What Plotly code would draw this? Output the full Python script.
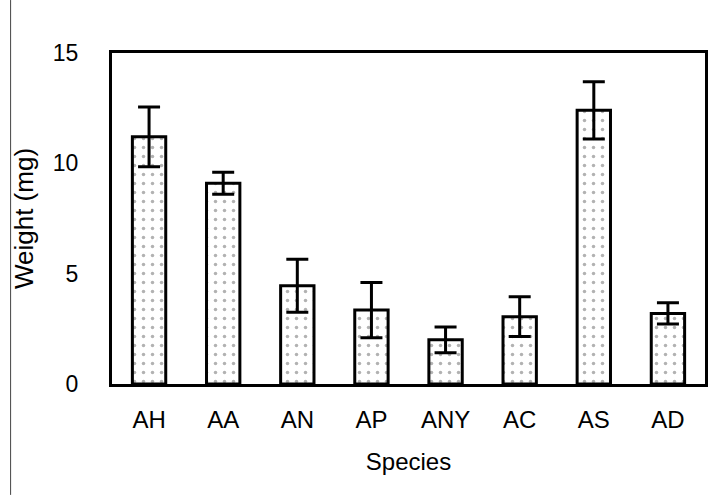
import plotly.graph_objects as go

species = ["AH", "AA", "AN", "AP", "ANY", "AC", "AS", "AD"]
weight = [11.2, 9.1, 4.45, 3.35, 2.0, 3.05, 12.4, 3.2]
err = [1.35, 0.5, 1.2, 1.25, 0.58, 0.9, 1.3, 0.48]
y_ticks = [0, 5, 10, 15]

fig = go.Figure()
fig.add_trace(go.Bar(
    x=species, y=weight,
    width=0.45,
    marker=dict(color="white",
                line=dict(color="black", width=3),
                pattern=dict(shape=".", fgcolor="#666666", bgcolor="white",
                             size=9, solidity=0.12)),
    error_y=dict(type="data", array=err, visible=True,
                 color="black", thickness=3, width=11),
))

fig.update_layout(
    width=710, height=501,
    margin=dict(l=112, r=2, t=53, b=117),
    plot_bgcolor="white", paper_bgcolor="white",
    font=dict(family="Liberation Sans, Arial, sans-serif", color="black"),
    showlegend=False,
    bargap=0.55,
)
fig.update_xaxes(
    showline=True, linecolor="black", linewidth=3, mirror=True,
    ticks="",
    tickfont=dict(size=24),
    ticklabelstandoff=12,
    title=dict(text="Species", font=dict(size=24), standoff=22),
)
fig.update_yaxes(
    range=[0, 15], tickvals=y_ticks, ticktext=[str(v) for v in y_ticks],
    showline=True, linecolor="black", linewidth=3, mirror=True,
    showgrid=False, zeroline=False, ticks="",
    tickfont=dict(size=23), ticklabelstandoff=26,
    title=dict(text="Weight (mg)", font=dict(size=26), standoff=12),
)
fig.add_shape(type="line", xref="paper", yref="paper",
              x0=-0.171, x1=-0.171, y0=-0.335, y1=1.16,
              line=dict(color="#444444", width=1))

fig.write_html("out.html")
